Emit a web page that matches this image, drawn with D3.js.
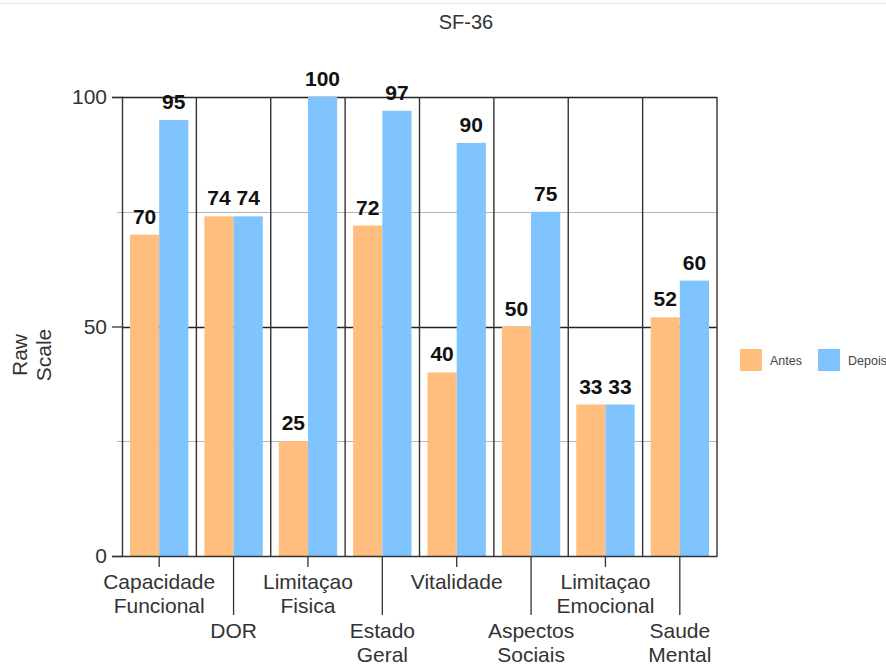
<!DOCTYPE html>
<html>
<head>
<meta charset="utf-8">
<script src="https://cdn.jsdelivr.net/npm/d3@7"></script>
<style>
  html, body { margin: 0; padding: 0; background: #fff; }
  svg { display: block; font-family: "Liberation Sans", Arial, Helvetica, sans-serif; }
</style>
</head>
<body>
<svg id="chart" width="886" height="666"></svg>
<script>
// SF-36 domain scores before and after
const categories = [
  ["Capacidade", "Funcional"],
  ["DOR"],
  ["Limitaçao", "Fisica"],
  ["Estado", "Geral"],
  ["Vitalidade"],
  ["Aspectos", "Sociais"],
  ["Limitaçao", "Emocional"],
  ["Saude", "Mental"]
];
const seriesNames = ["Antes", "Depois"];
const antes  = [70, 74, 25, 72, 40, 50, 33, 52];
const depois = [95, 74, 100, 97, 90, 75, 33, 60];
const majorTicks = [0, 50, 100];
const minorTicks = [25, 75];
const colors = ["#FFBE7D", "#80C4FF"];

const svg = d3.select("#chart");
const W = 886, H = 666;
const plotLeft = 122, plotRight = 717, plotTop = 97, plotBottom = 556;

const keys = categories.map(d => d.join(" "));
const rows = keys.map((k, i) => ({ key: k, values: [antes[i], depois[i]] }));

const x = d3.scaleBand().domain(keys).range([plotLeft, plotRight]).paddingInner(0).paddingOuter(0);
const xs = d3.scaleBand().domain(seriesNames).range([8, x.bandwidth() - 8]).padding(0);
const y = d3.scaleLinear().domain([0, 100]).range([plotBottom, plotTop]);

// faint page edge line
svg.append("line").attr("x1", 0).attr("x2", W).attr("y1", 3.5).attr("y2", 3.5)
  .attr("stroke", "#e6e6e6").attr("stroke-width", 1);

// title
svg.append("text").attr("x", 466).attr("y", 29).attr("text-anchor", "middle")
  .attr("font-size", 20).attr("fill", "#333").text("SF-36");

// horizontal gridlines
svg.append("g").selectAll("line").data(minorTicks).join("line")
  .attr("x1", plotLeft - 5).attr("x2", plotRight)
  .attr("y1", d => Math.round(y(d)) + 0.5).attr("y2", d => Math.round(y(d)) + 0.5)
  .attr("stroke", "#b5b5b5").attr("stroke-width", 1);
svg.append("g").selectAll("line").data([50, 100]).join("line")
  .attr("x1", plotLeft).attr("x2", plotRight)
  .attr("y1", d => Math.round(y(d)) + 0.5).attr("y2", d => Math.round(y(d)) + 0.5)
  .attr("stroke", "#222").attr("stroke-width", 1.3);

// bars
const groups = svg.append("g").selectAll("g").data(rows).join("g")
  .attr("transform", d => `translate(${x(d.key)},0)`);
groups.selectAll("rect").data(d => d.values.map((v, j) => ({ s: seriesNames[j], v, j })))
  .join("rect")
  .attr("x", d => xs(d.s))
  .attr("width", xs.bandwidth())
  .attr("y", d => y(d.v))
  .attr("height", d => y(0) - y(d.v))
  .attr("fill", d => colors[d.j]);

// value labels
groups.selectAll("text").data(d => d.values.map((v, j) => ({ s: seriesNames[j], v, j })))
  .join("text")
  .attr("x", d => xs(d.s) + xs.bandwidth() / 2)
  .attr("y", d => y(d.v) - 11)
  .attr("text-anchor", "middle")
  .attr("font-size", 21).attr("font-weight", "bold").attr("fill", "#111")
  .text(d => d.v);

// vertical category separators
svg.append("g").selectAll("line").data(keys.slice(1).concat(["__end"])).join("line")
  .attr("x1", d => d === "__end" ? plotRight : x(d))
  .attr("x2", d => d === "__end" ? plotRight : x(d))
  .attr("y1", plotTop).attr("y2", plotBottom)
  .attr("stroke", "#333").attr("stroke-width", 1.4);

// y axis
const yAxis = d3.axisLeft(y).tickValues(majorTicks).tickSize(10).tickPadding(5);
const gy = svg.append("g").attr("transform", `translate(${plotLeft},0)`).call(yAxis);
gy.select(".domain").attr("stroke", "#333").attr("stroke-width", 1.4);
gy.selectAll(".tick line").attr("stroke", "#333").attr("stroke-width", 1.3);
gy.selectAll(".tick text").attr("font-size", 21).attr("fill", "#333")
  .attr("font-family", "Liberation Sans, Arial, sans-serif");

// x axis with staggered labels
const xAxis = d3.axisBottom(x).tickSizeOuter(0).tickFormat("");
const gx = svg.append("g").attr("transform", `translate(0,${plotBottom})`).call(xAxis);
gx.select(".domain").attr("stroke", "#333").attr("stroke-width", 1.4);
gx.selectAll(".tick line")
  .attr("stroke", "#333").attr("stroke-width", 1.3)
  .attr("y2", (d, i) => i % 2 === 0 ? 11 : 59);
gx.selectAll(".tick text").remove();
gx.selectAll(".tick").each(function (d, i) {
  const lines = categories[i];
  const base = i % 2 === 0 ? 33 : 82;
  const t = d3.select(this).append("text")
    .attr("text-anchor", "middle").attr("font-size", 21).attr("fill", "#333")
    .attr("font-family", "Liberation Sans, Arial, sans-serif");
  lines.forEach((ln, k) => {
    t.append("tspan").attr("x", 0).attr("y", base + k * 24).text(ln);
  });
});

// y axis title
svg.append("text")
  .attr("transform", "translate(27,355) rotate(-90)")
  .attr("text-anchor", "middle").attr("font-size", 21).attr("fill", "#333")
  .selectAll("tspan").data(["Raw", "Scale"]).join("tspan")
  .attr("x", 0).attr("dy", (d, i) => i === 0 ? 0 : 24).text(d => d);

// legend
const lg = svg.append("g").selectAll("g").data(seriesNames).join("g")
  .attr("transform", (d, i) => `translate(${740 + i * 78},349)`);
lg.append("rect").attr("width", 22).attr("height", 22).attr("fill", (d, i) => colors[i]);
lg.append("text").attr("x", 30).attr("y", 16).attr("font-size", 12.5).attr("fill", "#444").text(d => d);
</script>
</body>
</html>
